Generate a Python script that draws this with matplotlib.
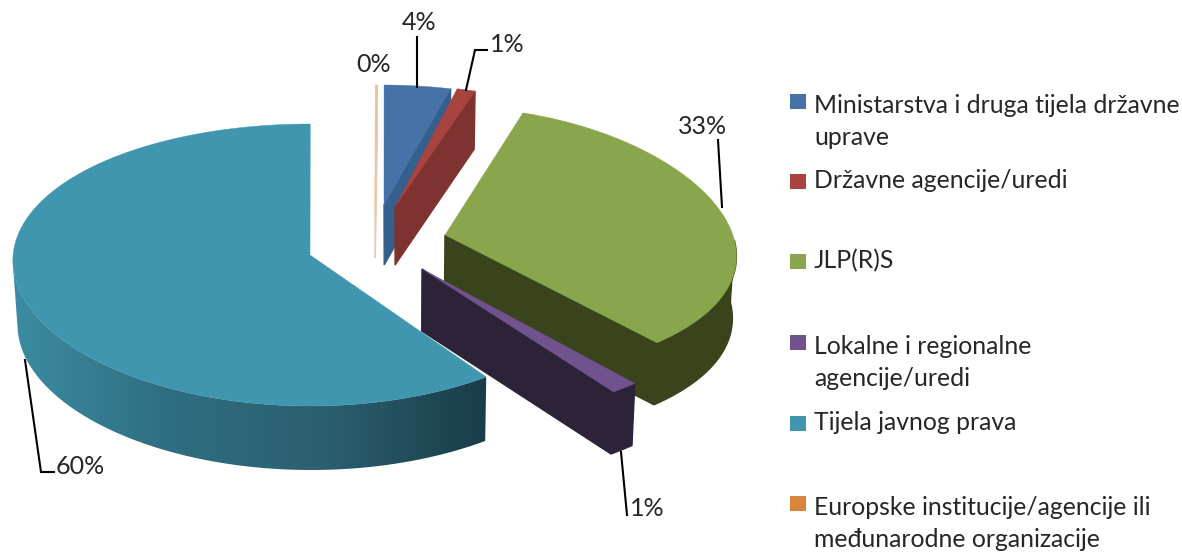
import numpy as np
import matplotlib
matplotlib.use('Agg')
import matplotlib.pyplot as plt
from matplotlib.colors import LinearSegmentedColormap
from matplotlib.patches import Polygon, Rectangle

labels = ["Ministarstva i druga tijela državne\nuprave", "Državne agencije/uredi", "JLP(R)S",
          "Lokalne i regionalne\nagencije/uredi", "Tijela javnog prava",
          "Europske institucije/agencije ili\nmeđunarodne organizacije"]
values = [3.6, 1.0, 33.4, 1.49, 60.41, 0.1]

plt.rcParams['font.family'] = ['Lato', 'DejaVu Sans']

top_colors = ['#4672A8', '#A8433F', '#8AA64C', '#70528F', '#4095AF', '#F2BE94']
side_colors = ['#355F8C', '#7F3331', '#39431C', '#2C2338', '#2B6070', '#E8C8AE']
legend_colors = ['#4672A8', '#A8433F', '#8AA64C', '#70528F', '#4095AF', '#DB843D']
legend_y = [101, 181, 261, 342, 423, 503]

# each slice is pulled out by hand: ellipse centre, radii, apex, depth, skew
geometry = [
    dict(cx=382, cy=226, a=297, b=141, apex=(384, 205), depth=60, k=0),
    dict(cx=389, cy=226, a=295, b=141, apex=(395, 207), depth=58, k=0),
    dict(cx=447, cy=243, a=288, b=136, apex=(445, 235), depth=62, k=0.10),
    dict(cx=433, cy=280, a=297, b=141, apex=(422, 269), depth=62, k=0),
    dict(cx=310, cy=265, a=297, b=141, apex=(310, 255), depth=64, k=-0.03),
    dict(cx=375, cy=226, a=297, b=141, apex=(375, 205), depth=53, k=0),
]
draw_order = [4, 5, 0, 1, 2, 3]
rotation = 0.4

# walls lean in a little towards the middle of the pie
lean_x = 400
lean = 0.012

label_pos = [(419, 23), (507, 44), (374, 65), (703, 126), (647, 508), (80, 466)]
label_idx = [0, 1, 5, 2, 3, 4]
leaders = [
    [(417, 37), (417, 87)],
    [(487, 50), (475, 50), (466, 90)],
    [(718, 140), (722, 207)],
    [(621, 452), (627, 515)],
    [(25, 360), (41, 472), (54, 472)],
]

fig = plt.figure(figsize=(11.82, 5.52), dpi=100)
ax = fig.add_axes([0, 0, 1, 1])
ax.set_xlim(0, 1182)
ax.set_ylim(552, 0)
ax.axis('off')

edges = rotation + np.cumsum([0] + values) * 3.6


def rim(g, theta):
    t = np.radians(theta)
    x = g['cx'] + g['a'] * np.sin(t) * (1 - g['k'] * np.cos(t))
    y = g['cy'] - g['b'] * np.cos(t)
    return np.column_stack([x, y])


def extrude(pts, depth):
    low = pts[::-1] + [0, depth]
    low[:, 0] += (lean_x - low[:, 0]) * lean
    return np.vstack([pts, low])


teal_side = LinearSegmentedColormap.from_list('teal', ['#3B8CA2', '#2F6D80', '#2A5F6F', '#1A3C48'])

for i in draw_order:
    g = geometry[i]
    thetas = np.linspace(edges[i], edges[i + 1], 200)
    arc = rim(g, thetas)
    apex = np.array(g['apex'], dtype=float)
    mid = arc[len(arc) // 2]

    # cut faces, only those turned towards the viewer
    for end in (arc[0], arc[-1]):
        dx = end[0] - apex[0]
        if abs(dx) < 1:
            continue
        line_y = apex[1] + (end[1] - apex[1]) * (mid[0] - apex[0]) / dx
        if mid[1] < line_y:
            face = extrude(np.array([apex, end]), g['depth'])
            ax.add_patch(Polygon(face, closed=True, fc=side_colors[i], ec=side_colors[i], lw=1, zorder=2 + i))

    # outer wall
    front = np.cos(np.radians(thetas)) < 0.02
    if front.any():
        wall = extrude(arc[front], g['depth'])
        if i == 4:
            clip = Polygon(wall, closed=True, transform=ax.transData, fc='none', ec='none')
            ax.add_patch(clip)
            grad = np.linspace(0, 1, 256).reshape(1, -1)
            im = ax.imshow(grad, cmap=teal_side, aspect='auto', zorder=2,
                           extent=(wall[:, 0].min(), wall[:, 0].max(), 552, 0))
            im.set_clip_path(clip)
        else:
            ax.add_patch(Polygon(wall, closed=True, fc=side_colors[i], ec=side_colors[i], lw=1, zorder=2 + i))

    top = np.vstack([apex, arc])
    ax.add_patch(Polygon(top, closed=True, fc=top_colors[i], ec=top_colors[i], lw=0.3, zorder=2 + i))

ax.set_xlim(0, 1182)
ax.set_ylim(552, 0)

for pts in leaders:
    xs, ys = zip(*pts)
    ax.plot(xs, ys, color='black', lw=1.5, zorder=20, solid_joinstyle='miter')

for pos, i in zip(label_pos, label_idx):
    ax.text(pos[0], pos[1], f"{values[i]:.0f}%", fontsize=18, color='#262626',
            ha='center', va='center', zorder=21)

for lab, y, c in zip(labels, legend_y, legend_colors):
    ax.add_patch(Rectangle((790, y - 7.5), 15.5, 15, fc=c, ec='none'))
    if '\n' in lab:
        ax.text(814, y - 7, lab, fontsize=17.85, color='#262626', ha='left', va='top', linespacing=1.46)
    else:
        ax.text(814, y, lab, fontsize=17.85, color='#262626', ha='left', va='center')

fig.savefig('out.png', dpi=100)
